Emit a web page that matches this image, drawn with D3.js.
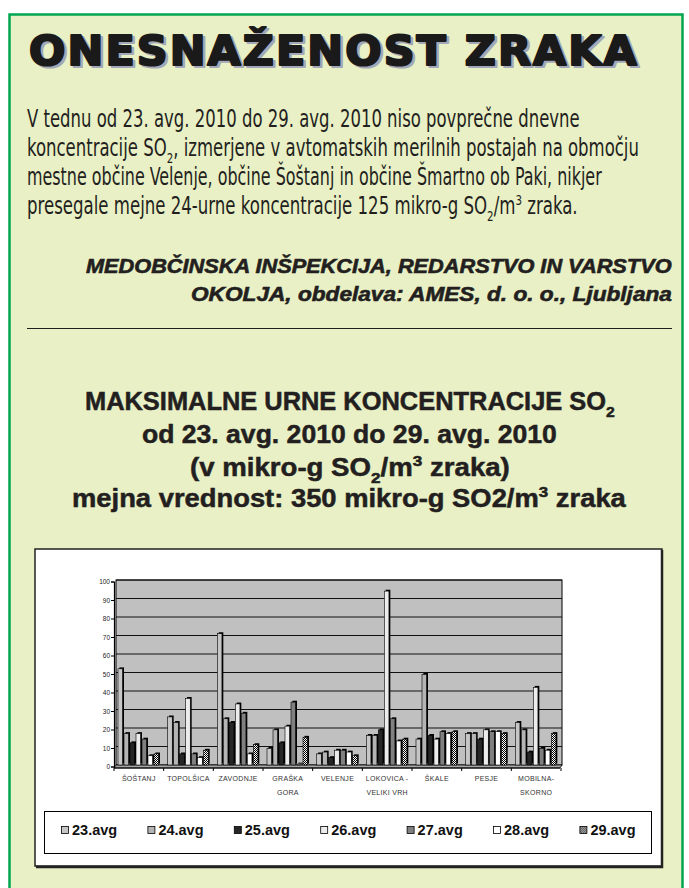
<!DOCTYPE html>
<html>
<head>
<meta charset="utf-8">
<script src="https://cdn.jsdelivr.net/npm/d3@7"></script>
<style>
body { margin: 0; background: #fff; }
svg { display: block; }
</style>
</head>
<body>
<script>
// postaje (kategorije)
var categories = ["ŠOŠTANJ", "TOPOLŠICA", "ZAVODNJE", "GRAŠKA|GORA", "VELENJE",
                  "LOKOVICA -|VELIKI VRH", "ŠKALE", "PESJE", "MOBILNA-|SKORNO"];
var seriesNames = ["23.avg", "24.avg", "25.avg", "26.avg", "27.avg", "28.avg", "29.avg"];

// max urne koncentracije SO2 po dnevih
var avg23 = [52, 26, 71, 9, 6, 16, 14, 17, 23];
var avg24 = [17, 23, 25, 19, 7, 16, 49, 17, 19];
var avg25 = [12, 6, 23, 12, 4, 19, 16, 14, 7];
var avg26 = [17, 36, 33, 21, 8, 94, 14, 19, 42];
var avg27 = [14, 6, 28, 34, 8, 25, 18, 18, 9];
var avg28 = [5, 4, 6, 0.5, 7, 13, 17, 18, 8];
var avg29 = [6, 8, 11, 15, 5, 14, 18, 17, 17];
var yTicks = [0, 10, 20, 30, 40, 50, 60, 70, 80, 90, 100];

var seriesValues = [avg23, avg24, avg25, avg26, avg27, avg28, avg29];
var seriesFill = ["#c6c6c6", "#b4b4b4", "#262626", "#ececec", "#808080", "#ffffff", "url(#checker)"];

var svg = d3.select("body").append("svg")
            .attr("width", 689)
            .attr("height", 888);

var defs = svg.append("defs");
var pat = defs.append("pattern")
              .attr("id", "checker")
              .attr("width", 2).attr("height", 2)
              .attr("patternUnits", "userSpaceOnUse");
pat.append("rect").attr("width", 2).attr("height", 2).attr("fill", "#fff");
pat.append("rect").attr("width", 1).attr("height", 1).attr("fill", "#000");
pat.append("rect").attr("x", 1).attr("y", 1).attr("width", 1).attr("height", 1).attr("fill", "#000");

// okvir strani
svg.append("rect")
   .attr("x", 9.5).attr("y", 14.5)
   .attr("width", 673).attr("height", 900)
   .attr("fill", "#e9f0c5")
   .attr("stroke", "#00a651")
   .attr("stroke-width", 2.5);

// helper: squeeze a text horizontally to a given width
function fitText(sel, x0, w) {
  var natural = sel.node().getComputedTextLength();
  var k = w / natural;
  sel.attr("transform", "translate(" + x0 + ",0) scale(" + k + ",1) translate(" + (-x0) + ",0)");
  return sel;
}

// naslov
[["#a3a8b8", 2.5], ["#1a1a1a", 0]].forEach(function(d) {
  fitText(svg.append("text")
     .attr("x", 29 + d[1]).attr("y", 65 + d[1])
     .attr("font-family", "DejaVu Sans")
     .attr("font-weight", "bold")
     .attr("font-size", 41)
     .attr("letter-spacing", 2)
     .attr("fill", d[0])
     .attr("stroke", d[0])
     .attr("stroke-width", 2.2)
     .attr("stroke-linejoin", "round")
     .text("ONESNAŽENOST ZRAKA"), 29 + d[1], 610);
});

// besedilo
var body = [
  {y: 127, w: 553, parts: [["V tednu od 23. avg. 2010 do 29. avg. 2010 niso povprečne dnevne"]]},
  {y: 156, w: 612, parts: [["koncentracije SO"], ["2", "sub"], [", izmerjene v avtomatskih merilnih postajah na območju"]]},
  {y: 185, w: 575, parts: [["mestne občine Velenje, občine Šoštanj in občine Šmartno ob Paki, nikjer"]]},
  {y: 214, w: 551, parts: [["presegale mejne 24-urne koncentracije 125 mikro-g SO"], ["2", "sub"], ["/m"], ["3", "sup"], [" zraka."]]}
];

function addParts(t, parts, size) {
  var shift = 0;
  parts.forEach(function(p) {
    var ts = t.append("tspan").text(p[0]);
    var target = p[1] === "sub" ? size * 0.28 : p[1] === "sup" ? -size * 0.38 : 0;
    if (target !== shift) { ts.attr("dy", target - shift); shift = target; }
    if (p[1]) ts.attr("font-size", size * 0.62);
  });
}

body.forEach(function(line) {
  var t = svg.append("text")
     .attr("x", 27).attr("y", line.y)
     .attr("font-family", "DejaVu Sans Condensed, Liberation Sans Narrow, sans-serif")
     .attr("font-stretch", "condensed")
     .attr("font-size", 24)
     .attr("fill", "#231f20");
  addParts(t, line.parts, 24);
  fitText(t, 27, line.w);
});

// vir
var source = [
  {y: 273, x: 86, text: "MEDOBČINSKA INŠPEKCIJA, REDARSTVO IN VARSTVO"},
  {y: 301, x: 191, text: "OKOLJA, obdelava: AMES, d. o. o., Ljubljana"}
];
source.forEach(function(s) {
  fitText(svg.append("text")
     .attr("x", s.x).attr("y", s.y)
     .attr("font-family", "Liberation Sans, Arial, sans-serif")
     .attr("font-weight", "bold")
     .attr("font-style", "italic")
     .attr("font-size", 20)
     .attr("fill", "#231f20")
     .attr("stroke", "#231f20").attr("stroke-width", 0.6)
     .text(s.text), s.x, 672 - s.x);
});

svg.append("line")
   .attr("x1", 27).attr("x2", 672)
   .attr("y1", 328.5).attr("y2", 328.5)
   .attr("stroke", "#231f20").attr("stroke-width", 1.2);

// naslov grafa
var chartTitle = [
  {y: 410, x: 85, w: 530, parts: [["MAKSIMALNE URNE KONCENTRACIJE SO"], ["2", "sub"]]},
  {y: 443, x: 142, w: 415, parts: [["od 23. avg. 2010 do 29. avg. 2010"]]},
  {y: 476, x: 190, w: 320, parts: [["(v mikro-g SO"], ["2", "sub"], ["/m"], ["3", "sup"], [" zraka)"]]},
  {y: 507, x: 72, w: 554, parts: [["mejna vrednost: 350 mikro-g SO2/m"], ["3", "sup"], [" zraka"]]}
];
chartTitle.forEach(function(line) {
  var t = svg.append("text")
     .attr("x", line.x).attr("y", line.y)
     .attr("font-family", "Liberation Sans, Arial, sans-serif")
     .attr("font-weight", "bold")
     .attr("font-size", 25)
     .attr("fill", "#231f20")
     .attr("stroke", "#231f20").attr("stroke-width", 0.5);
  addParts(t, line.parts, 25);
  fitText(t, line.x, line.w);
});

// okvir grafa
svg.append("rect")
   .attr("x", 35).attr("y", 549)
   .attr("width", 627).attr("height", 317)
   .attr("fill", "#fff")
   .attr("stroke", "#222").attr("stroke-width", 1.5);
svg.append("path")
   .attr("d", "M662,550 V867 H36")
   .attr("fill", "none").attr("stroke", "#222").attr("stroke-width", 2.5);

// skale
var x = d3.scaleBand().domain(categories).range([115, 562]);
var xs = d3.scaleBand().domain(seriesNames).range([3, 45]);
var y = d3.scaleLinear().domain([0, 100]).range([765, 580]);

// ozadje in mreza
svg.append("rect")
   .attr("x", 116).attr("y", y(100))
   .attr("width", 446).attr("height", y(0) - y(100))
   .attr("fill", "#c0c0c0")
   .attr("stroke", "#000").attr("stroke-width", 1);

svg.append("g").selectAll("line")
   .data(yTicks.slice(1))
   .enter().append("line")
   .attr("x1", 116).attr("x2", 562)
   .attr("y1", function(d) { return y(d); })
   .attr("y2", function(d) { return y(d); })
   .attr("stroke", "#111").attr("stroke-width", 1);

// tla
svg.append("polygon")
   .attr("points", [[116, y(0)], [562, y(0)], [560, y(0) + 3], [114, y(0) + 3]].join(" "))
   .attr("fill", "#a8a8a8")
   .attr("stroke", "#000").attr("stroke-width", 0.8);

// stolpci
var groups = svg.append("g").selectAll("g")
   .data(seriesNames)
   .enter().append("g");

groups.each(function(s, si) {
  var g = d3.select(this);
  var bw = xs.bandwidth() - 1.4;
  var bars = g.selectAll("g")
     .data(seriesValues[si].map(function(v, ci) { return {cat: categories[ci], v: v}; }))
     .enter().append("g");
  bars.append("rect")
     .attr("x", function(d) { return x(d.cat) + xs(s) + 1.4; })
     .attr("y", function(d) { return y(d.v) - 1.4; })
     .attr("width", bw)
     .attr("height", function(d) { return y(0) - y(d.v); })
     .attr("fill", "#000");
  bars.append("rect")
     .attr("x", function(d) { return x(d.cat) + xs(s); })
     .attr("y", function(d) { return y(d.v); })
     .attr("width", bw)
     .attr("height", function(d) { return y(0) - y(d.v); })
     .attr("fill", seriesFill[si])
     .attr("stroke", "#000").attr("stroke-width", 0.6);
});

// os y
var yAxis = svg.append("g")
   .attr("transform", "translate(114,1.5)")
   .call(d3.axisLeft(y).tickValues(yTicks).tickSize(3).tickPadding(1));
yAxis.select(".domain").attr("stroke", "#000").attr("stroke-width", 1.2);
yAxis.selectAll("line").attr("stroke", "#000");
yAxis.selectAll("text")
   .attr("font-family", "Liberation Sans, Arial, sans-serif")
   .attr("font-size", 6.5)
   .attr("fill", "#222");

// os x
var xAxisY = y(0) + 3;
svg.append("line")
   .attr("x1", 114).attr("x2", 560)
   .attr("y1", xAxisY).attr("y2", xAxisY)
   .attr("stroke", "#000").attr("stroke-width", 1);
svg.append("g").selectAll("line")
   .data(categories.concat(["_end"]))
   .enter().append("line")
   .attr("x1", function(d, i) { return x.range()[0] - 1 + i * x.bandwidth(); })
   .attr("x2", function(d, i) { return x.range()[0] - 1 + i * x.bandwidth(); })
   .attr("y1", xAxisY).attr("y2", xAxisY + 3)
   .attr("stroke", "#000");

var catLabels = svg.append("g").selectAll("text")
   .data(categories)
   .enter().append("text")
   .attr("x", function(d) { return x(d) + x.bandwidth() / 2 - 1; })
   .attr("y", 780.5)
   .attr("text-anchor", "middle")
   .attr("font-family", "Liberation Sans, Arial, sans-serif")
   .attr("font-size", 7)
   .attr("letter-spacing", 0.3)
   .attr("fill", "#333");
catLabels.each(function(d) {
  var t = d3.select(this);
  d.split("|").forEach(function(part, i) {
    t.append("tspan")
     .attr("x", x(d) + x.bandwidth() / 2 - 1)
     .attr("dy", i === 0 ? 0 : 14)
     .text(part);
  });
});

// legenda
svg.append("rect")
   .attr("x", 44.5).attr("y", 811.5)
   .attr("width", 607).attr("height", 42)
   .attr("fill", "#fff")
   .attr("stroke", "#000").attr("stroke-width", 1);

var leg = svg.append("g").selectAll("g")
   .data(seriesNames)
   .enter().append("g")
   .attr("transform", function(d, i) { return "translate(" + (61 + i * 86.4) + ",0)"; });
leg.append("rect")
   .attr("x", 0.5).attr("y", 826.5)
   .attr("width", 7).attr("height", 7)
   .attr("fill", function(d, i) { return seriesFill[i]; })
   .attr("stroke", "#000").attr("stroke-width", 0.8);
leg.append("text")
   .attr("x", 11).attr("y", 835)
   .attr("font-family", "Liberation Sans, Arial, sans-serif")
   .attr("font-weight", "bold")
   .attr("font-size", 14.5)
   .attr("fill", "#111")
   .text(function(d) { return d; });
</script>
</body>
</html>
